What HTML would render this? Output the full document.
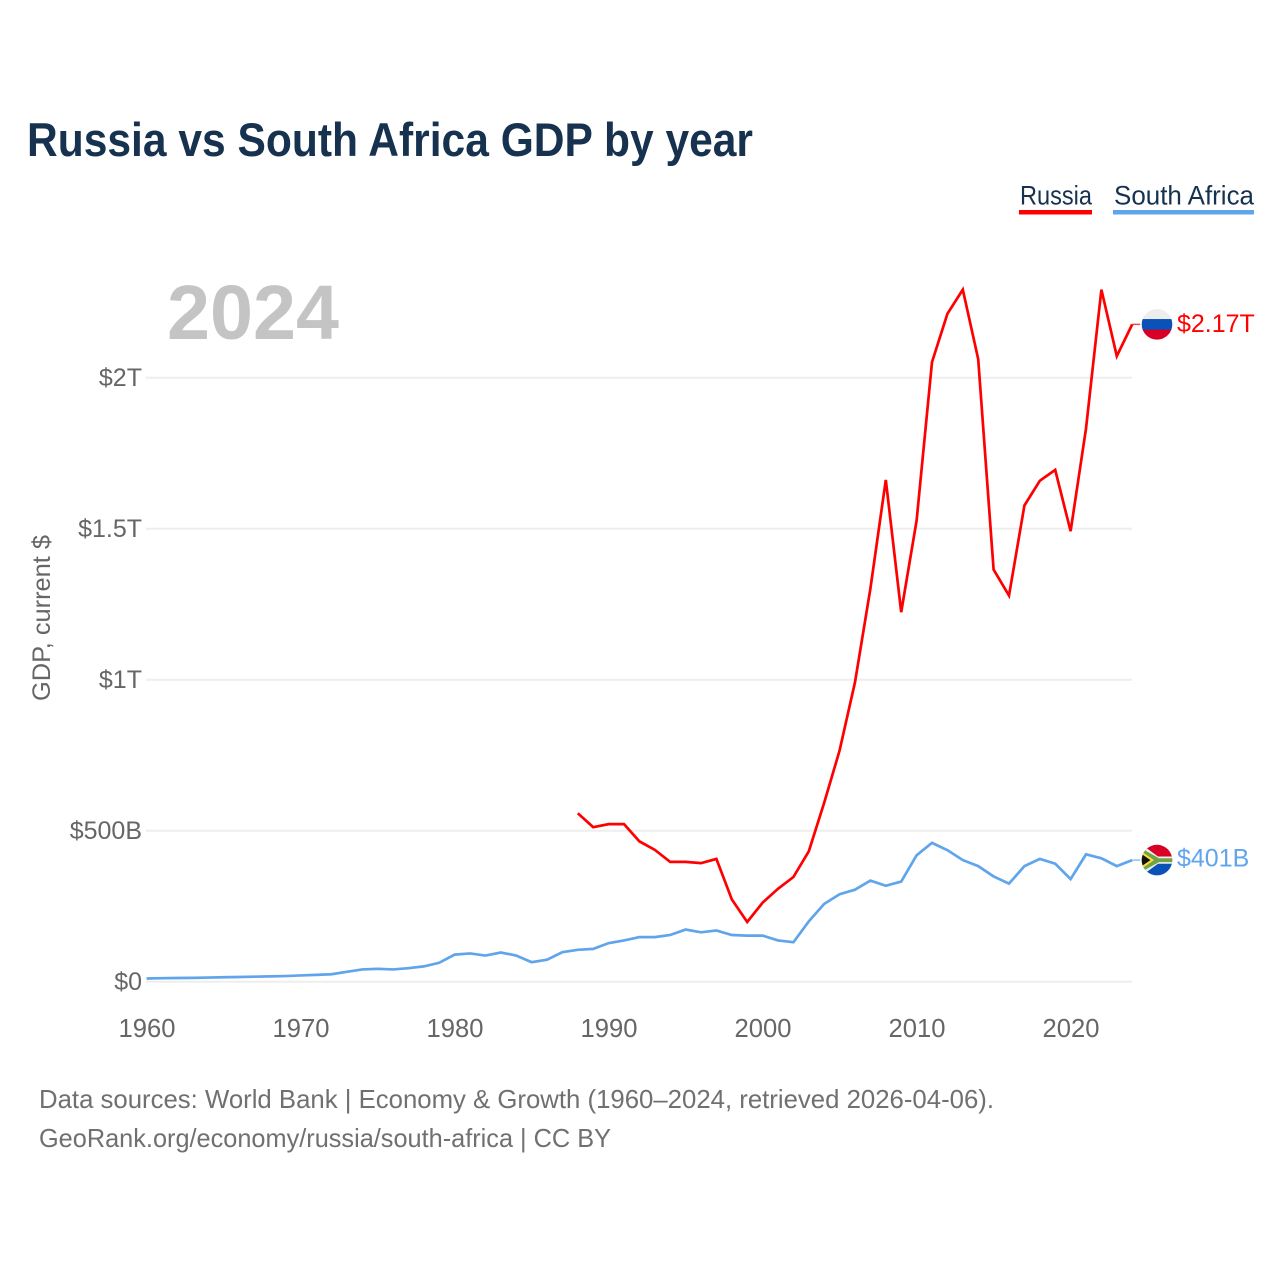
<!DOCTYPE html>
<html lang="en">
<head>
<meta charset="utf-8">
<title>Russia vs South Africa GDP by year</title>
<style>
html,body{margin:0;padding:0;background:#fff;}
svg{display:block;font-family:"Liberation Sans",sans-serif;}
</style>
</head>
<body>
<svg id="chart" xmlns="http://www.w3.org/2000/svg" width="1280" height="1280" viewBox="0 0 1280 1280">
  <defs>
    <clipPath id="flag-clip"><circle cx="0" cy="0" r="15.3"/></clipPath>
  </defs>
  <rect x="0" y="0" width="1280" height="1280" fill="#ffffff"/>
  <text x="27" y="156" font-size="47" font-weight="700" fill="#16324f" textLength="726" lengthAdjust="spacingAndGlyphs">Russia vs South Africa GDP by year</text>

  <g>
    <g>
      <text x="1020" y="204.5" font-size="27" fill="#16324f" textLength="72" lengthAdjust="spacingAndGlyphs">Russia</text>
      <rect x="1019" y="210" width="73" height="4.5" fill="#ff0000"/>
    </g>
    <g>
      <text x="1114" y="204.5" font-size="27" fill="#16324f" textLength="140" lengthAdjust="spacingAndGlyphs">South Africa</text>
      <rect x="1113" y="210" width="141" height="4.5" fill="#60a5ec"/>
    </g>
  </g>

  <text x="167" y="339" font-size="77" font-weight="700" fill="#c4c4c4" textLength="172" lengthAdjust="spacingAndGlyphs">2024</text>

  <g id="grid"></g>
  <g id="y-ticks"></g>
  <g id="x-ticks"></g>
  <text transform="translate(50,701) rotate(-90)" font-size="25" fill="#666666" textLength="166" lengthAdjust="spacingAndGlyphs">GDP, current $</text>

  <g id="series"></g>

  <g id="flag-russia">
    <g clip-path="url(#flag-clip)">
      <rect x="-16" y="-16" width="32" height="11" fill="#eeeeee"/>
      <rect x="-16" y="-5.3" width="32" height="11" fill="#0a51b8"/>
      <rect x="-16" y="5.3" width="32" height="11" fill="#d80027"/>
    </g>
  </g>
  <g id="flag-south-africa">
    <g clip-path="url(#flag-clip)">
      <rect x="-16" y="-16" width="32" height="16" fill="#d80027"/>
      <rect x="-16" y="0" width="32" height="16" fill="#0a51b8"/>
      <path d="M-16,-16 L1,-3.6 L16,-3.6 L16,3.6 L1,3.6 L-16,16 Z" fill="#eeeeee"/>
      <path d="M-16,-12 L2,-1.8 L16,-1.8 L16,2 L2,2 L-16,12 Z" fill="#6da544"/>
      <path d="M-16,-9 L-3,0 L-16,9 Z" fill="#ffda44"/>
      <path d="M-16,-6.5 L-6.5,0 L-16,6.5 Z" fill="#111111"/>
    </g>
  </g>

  <text id="value-russia" x="1177" y="331" font-size="25" fill="#ff0000"></text>
  <text id="value-south-africa" x="1177" y="866" font-size="25" fill="#60a5ec"></text>

  <text x="39" y="1108" font-size="26" fill="#707070" textLength="955" lengthAdjust="spacingAndGlyphs">Data sources: World Bank | Economy &amp; Growth (1960–2024, retrieved 2026-04-06).</text>
  <text x="39" y="1147" font-size="26" fill="#707070" textLength="572" lengthAdjust="spacingAndGlyphs">GeoRank.org/economy/russia/south-africa | CC BY</text>
</svg>
<script>
// Values in billions of current US$.
const russiaYears = [1988,1989,1990,1991,1992,1993,1994,1995,1996,1997,1998,1999,2000,2001,2002,2003,2004,2005,2006,2007,2008,2009,2010,2011,2012,2013,2014,2015,2016,2017,2018,2019,2020,2021,2022,2023,2024];
const russiaValues = [556,510,520,520,463,435,395,395,391,405,271,196,260,306,345,430,591,764,990,1300,1660,1222,1525,2050,2210,2290,2060,1363,1277,1575,1657,1693,1490,1830,2290,2070,2175];
const southAfricaYears = [1960,1961,1962,1963,1964,1965,1966,1967,1968,1969,1970,1971,1972,1973,1974,1975,1976,1977,1978,1979,1980,1981,1982,1983,1984,1985,1986,1987,1988,1989,1990,1991,1992,1993,1994,1995,1996,1997,1998,1999,2000,2001,2002,2003,2004,2005,2006,2007,2008,2009,2010,2011,2012,2013,2014,2015,2016,2017,2018,2019,2020,2021,2022,2023,2024];
const southAfricaValues = [9,10,10.5,11,12,13,14,15,16,17,19,21,23,31,39,41,39,43,49,61,88,92,85,95,85,63,71,96,104,107,126,135,146,146,153,171,162,168,153,151,151,135,129,198,256,288,303,333,316,330,417,458,434,401,381,347,323,381,405,389,338,420,407,381,401];
const xTickYears = [1960,1970,1980,1990,2000,2010,2020];
const xTickLabels = ["1960","1970","1980","1990","2000","2010","2020"];
const yTickValues = [0,500,1000,1500,2000];
const yTickLabels = ["$0","$500B","$1T","$1.5T","$2T"];
const endLabels = ["$2.17T","$401B"];

const NS = "http://www.w3.org/2000/svg";
function xScale(year){ return 146.6 + (year - 1960) * 15.4; }
function yScale(v){ return 981.2 - v * 0.302; }

function make(tag, attrs, parent, txt){
  const el = document.createElementNS(NS, tag);
  for (const k in attrs) el.setAttribute(k, attrs[k]);
  if (txt !== undefined) el.textContent = txt;
  parent.appendChild(el);
  return el;
}

const grid = document.getElementById("grid");
const yTicks = document.getElementById("y-ticks");
yTickValues.forEach(function(v, i){
  const line = make("line", {x1:146, x2:1132, y1:yScale(v) + 0.5, y2:yScale(v) + 0.5, stroke:"#eeeeee", "stroke-width":2}, grid);
  
  
  const t = make("text", {x:142, y:yScale(v) + 8.8, "text-anchor":"end", "font-size":25, fill:"#666666"}, yTicks, yTickLabels[i]);
  
  
});

const xTicks = document.getElementById("x-ticks");
xTickYears.forEach(function(year, i){
  const t = make("text", {x:xScale(year) + 0.4, y:1037, "text-anchor":"middle", "font-size":25.6, fill:"#666666"}, xTicks, xTickLabels[i]);
  
  
});

function pathFor(years, values){
  return years.map(function(y, i){
    return (i ? "L" : "M") + xScale(y).toFixed(2) + "," + yScale(values[i]).toFixed(2);
  }).join(" ");
}

const series = document.getElementById("series");

function drawSeries(years, values, color, name){
  const p = make("path", {d:pathFor(years, values), fill:"none", stroke:color, "stroke-width":2.7, "stroke-linejoin":"miter", "stroke-linecap":"butt"}, series);
  
  
  const lastX = xScale(years[years.length - 1]);
  const lastY = yScale(values[values.length - 1]);
  const c = make("line", {x1:lastX, x2:lastX + 8, y1:lastY, y2:lastY, stroke:color, "stroke-width":1.4, opacity:0.75}, series);
  
  
  return lastY;
}

const russiaEnd = drawSeries(russiaYears, russiaValues, "#ff0000", "russia-line");
const southAfricaEnd = drawSeries(southAfricaYears, southAfricaValues, "#60a5ec", "south-africa-line");

document.getElementById("flag-russia").setAttribute("transform", "translate(1157," + russiaEnd + ")");
document.getElementById("flag-south-africa").setAttribute("transform", "translate(1157," + southAfricaEnd + ")");

const vr = document.getElementById("value-russia");
vr.textContent = endLabels[0];
vr.setAttribute("y", russiaEnd + 7.5);
const vs = document.getElementById("value-south-africa");
vs.textContent = endLabels[1];
vs.setAttribute("y", southAfricaEnd + 6.5);
</script>
</body>
</html>
